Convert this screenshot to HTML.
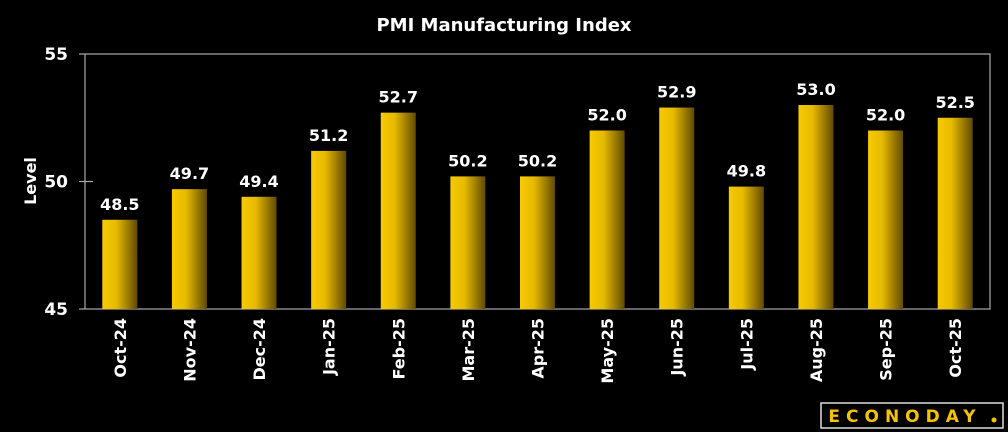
<!DOCTYPE html>
<html><head><meta charset="utf-8"><style>
html,body{margin:0;padding:0;background:#000;width:1008px;height:432px;overflow:hidden}
svg text{font-family:"DejaVu Sans","Liberation Sans",sans-serif;font-weight:bold;fill:#fff}
</style></head><body>
<svg id="chart" width="1008" height="432">
<defs><linearGradient id="bg" x1="0" x2="1" y1="0" y2="0">
<stop offset="0" stop-color="#f7ca00"/><stop offset="0.4" stop-color="#e6ba00"/><stop offset="1" stop-color="#604a00"/></linearGradient></defs>
<text x="504" y="31" font-size="18" text-anchor="middle">PMI Manufacturing Index</text>
<text transform="translate(36,181) rotate(-90)" font-size="16" text-anchor="middle">Level</text>
<rect x="85" y="54" width="905" height="255" fill="none" stroke="#aaa" stroke-width="1.2"/>
<g id="yaxis"></g><g id="bars"></g>
<g>
<rect x="821" y="403" width="182" height="25" fill="#000" stroke="#ddd" stroke-width="1.5"/>
<text x="905" y="422" font-size="17" style="fill:#f5c400" letter-spacing="6" text-anchor="middle">ECONODAY</text>
<circle cx="994" cy="420" r="2.5" fill="#f5c400"/>
</g>
</svg>
<script>
const categories=["Oct-24","Nov-24","Dec-24","Jan-25","Feb-25","Mar-25","Apr-25","May-25","Jun-25","Jul-25","Aug-25","Sep-25","Oct-25"];
const values=[48.5,49.7,49.4,51.2,52.7,50.2,50.2,52.0,52.9,49.8,53.0,52.0,52.5];
const yTicks=[45,50,55];
const NS="http://www.w3.org/2000/svg";
const L=85,R=990,T=54,B=309,ymin=45,ymax=55;
const y=v=>B-(v-ymin)/(ymax-ymin)*(B-T);
const bw=(R-L)/categories.length;
const x=i=>L+bw*(i+0.5);
function mk(tag,a,p){const e=document.createElementNS(NS,tag);for(const k in a)e.setAttribute(k,a[k]);p.appendChild(e);return e;}
const ya=document.getElementById('yaxis'),bg=document.getElementById('bars');
yTicks.forEach(t=>{
 const l=mk('line',{x1:79,x2:t===50?93:85,y1:y(t),y2:y(t),stroke:'#aaa','stroke-width':1.2},ya);
 
 
 const tx=mk('text',{x:68,y:y(t)+6,'font-size':17,'text-anchor':'end'},ya);tx.textContent=t;
 
 
});
values.forEach((v,i)=>{
 const r=mk('rect',{x:x(i)-17.5,y:y(v),width:35,height:B-y(v),fill:'url(#bg)'},bg);
 
 
 const vl=mk('text',{x:x(i),y:y(v)-10,'font-size':16,'text-anchor':'middle'},bg);vl.textContent=v.toFixed(1);
 
 
 const cl=mk('text',{transform:`translate(${x(i)+6},318) rotate(-90)`,'font-size':16,'text-anchor':'end'},bg);cl.textContent=categories[i];
 
 
});
</script>
</body></html>
